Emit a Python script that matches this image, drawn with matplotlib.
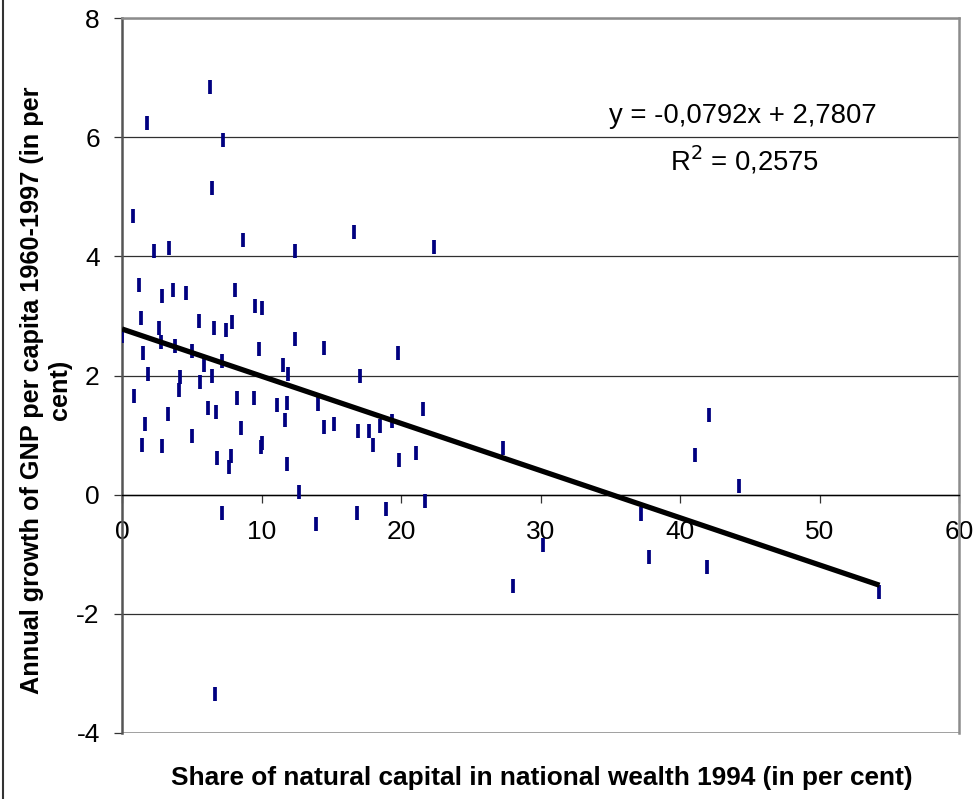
import matplotlib
matplotlib.use("Agg")
import matplotlib.pyplot as plt
from matplotlib.lines import Line2D

plt.rcParams['font.family'] = ['Liberation Sans', 'DejaVu Sans']

natural_share = [6.30, 1.77, 7.23, 6.48, 0.79, 2.32, 3.37, 8.66, 12.42,
                 16.65, 22.4,
                 1.24, 2.85, 3.68, 4.57, 8.13, 9.5, 10.03, 1.34, 2.68, 5.55,
                 6.63, 7.44, 7.92, 0.0, 2.78, 3.78, 5.0, 12.42, 9.79, 1.51,
                 5.91, 7.18, 11.53, 11.9, 1.84, 4.14, 6.48, 5.6, 4.09, 0.88,
                 8.23, 9.48, 11.08, 11.82, 6.15, 6.72, 3.3, 11.68, 1.63, 8.5,
                 5.05, 1.46, 2.85, 10.03, 9.98, 6.8, 7.8, 7.68, 11.85, 12.68,
                 7.2, 6.7,
                 14.5, 19.79, 17.04, 14.05, 21.58, 14.48, 15.2, 16.92, 17.73,
                 18.47, 19.33, 18.0, 21.08, 19.88, 21.72, 18.93, 16.82, 13.88,
                 27.3, 42.05, 41.06, 44.25, 37.17, 30.17, 37.8, 41.9, 28.02,
                 54.3]
gnp_growth = [6.85, 6.23, 5.95, 5.14, 4.68, 4.09, 4.14, 4.27, 4.09,
              4.41, 4.15,
              3.52, 3.33, 3.43, 3.39, 3.43, 3.17, 3.13, 2.97, 2.79, 2.92,
              2.79, 2.76, 2.90, 2.66, 2.56, 2.50, 2.41, 2.62, 2.45, 2.38,
              2.17, 2.25, 2.17, 2.03, 2.03, 1.98, 1.99, 1.89, 1.75, 1.65,
              1.62, 1.62, 1.51, 1.54, 1.46, 1.38, 1.35, 1.26, 1.19, 1.12,
              0.99, 0.83, 0.81, 0.87, 0.80, 0.62, 0.65, 0.46, 0.51, 0.05,
              -0.31, -3.35,
              2.46, 2.37, 1.99, 1.53, 1.44, 1.13, 1.19, 1.07, 1.07,
              1.15, 1.24, 0.83, 0.70, 0.59, -0.11, -0.24, -0.31, -0.5,
              0.78, 1.34, 0.66, 0.14, -0.32, -0.85, -1.04, -1.22, -1.53,
              -1.63]

slope = -0.0792
intercept = 2.7807
x_ticks = [0, 10, 20, 30, 40, 50, 60]
y_ticks = [-4, -2, 0, 2, 4, 6, 8]
eq_text = "y = -0,0792x + 2,7807"
r2_text = "R$^2$ = 0,2575"
x_label = "Share of natural capital in national wealth 1994 (in per cent)"
y_label = "Annual growth of GNP per capita 1960-1997 (in per\ncent)"

fig = plt.figure(figsize=(9.78, 7.99), dpi=100)
ax = fig.add_axes([122/978, 1 - 733/799, (959-122)/978, (733-18)/799])

ax.set_xlim(0, 60)
ax.set_ylim(-4, 8)

# gridlines
for yt in y_ticks:
    ax.axhline(yt, color='#303030', lw=0.9, zorder=1)

# spines
for s in ['top', 'right']:
    ax.spines[s].set_color('#8c8c8c')
    ax.spines[s].set_linewidth(1.8)
ax.spines['left'].set_color('#555555')
ax.spines['left'].set_linewidth(1.8)
ax.spines['bottom'].set_position(('data', 0))
ax.spines['bottom'].set_color('black')
ax.spines['bottom'].set_linewidth(1.0)
ax.axhline(-4, color='#8c8c8c', lw=1.8, zorder=2)

ax.set_xticks(x_ticks)
ax.set_yticks(y_ticks)
ax.set_xticklabels([str(t) for t in x_ticks])
ax.set_yticklabels([str(t) for t in y_ticks])
ax.tick_params(axis='x', direction='out', length=6, width=0.9, color='#333333',
               labelsize=19, pad=12)
ax.tick_params(axis='y', direction='out', length=6, width=0.9, color='#333333',
               labelsize=19, pad=10)

# scatter points
ax.plot(natural_share, gnp_growth, linestyle='none', marker='|',
        markersize=10.5, markeredgewidth=2.7, color='#000080', zorder=4)

# trend line
x_end = max(natural_share)
ax.plot([0, x_end], [intercept, intercept + slope * x_end],
        color='black', lw=3.8, solid_capstyle='butt', zorder=5)

ax.text(44.5, 6.35, eq_text, ha='center', va='center', fontsize=19.8, zorder=6)
ax.text(44.6, 5.62, r2_text, ha='center', va='center', fontsize=19.8, zorder=6)

fig.text(542/978, 1 - 778/799, x_label, ha='center', va='center',
         fontsize=18.9, fontweight='bold')
fig.text(46/978, 1 - 390/799, y_label, ha='center', va='center',
         rotation=90, fontsize=18.2, fontweight='bold', multialignment='center',
         linespacing=1.2)

fig.add_artist(Line2D([3/978, 3/978], [0, 1], transform=fig.transFigure,
                      color='#333333', lw=1.5))

fig.savefig('out.png', dpi=100)
